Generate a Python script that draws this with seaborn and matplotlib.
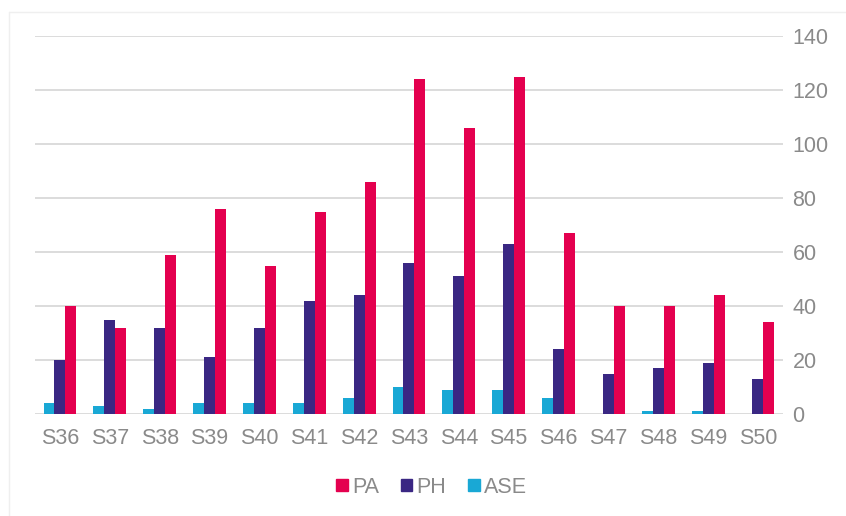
import matplotlib
matplotlib.use("Agg")
import matplotlib.pyplot as plt
import pandas as pd
import seaborn as sns
from matplotlib.lines import Line2D
from matplotlib.patches import Patch

# Data
weeks = ["S36", "S37", "S38", "S39", "S40", "S41", "S42", "S43",
         "S44", "S45", "S46", "S47", "S48", "S49", "S50"]
pa_values = [40, 32, 59, 76, 55, 75, 86, 124, 106, 125, 67, 40, 40, 44, 34]
ph_values = [20, 35, 32, 21, 32, 42, 44, 56, 51, 63, 24, 15, 17, 19, 13]
ase_values = [4, 3, 2, 4, 4, 4, 6, 10, 9, 9, 6, 0, 1, 1, 0]

colors = {"PA": "#E4004F", "PH": "#3A2783", "ASE": "#19A8D5"}

df = pd.DataFrame({"Semaine": weeks, "PA": pa_values, "PH": ph_values, "ASE": ase_values})
long_df = df.melt(id_vars="Semaine", var_name="Serie", value_name="Valeur")

sns.set_theme(style="white")
plt.rcParams["font.family"] = ["Liberation Sans", "DejaVu Sans"]

fig = plt.figure(figsize=(8.46, 5.16), dpi=100)
ax = fig.add_axes([0.0414, 0.1977, 0.884, 0.7323])

sns.barplot(data=long_df, x="Semaine", y="Valeur", hue="Serie",
            hue_order=["ASE", "PH", "PA"], palette=colors,
            width=0.66, gap=0, saturation=1, linewidth=0, ax=ax, legend=False)

ax.set_ylim(0, 140)
ax.set_xlim(-0.5, len(weeks) - 0.5)
ax.set_yticks(range(0, 141, 20))
ax.yaxis.tick_right()
ax.grid(axis="y", color="#D9D9D9", linewidth=1.3)
ax.set_axisbelow(True)
for s in ax.spines.values():
    s.set_visible(False)

ax.tick_params(axis="y", length=0, pad=7, labelsize=15.5, labelcolor="#8A8A8A")
ax.tick_params(axis="x", length=0, pad=10, labelsize=15.5, labelcolor="#8A8A8A")
ax.set_xlabel("")
ax.set_ylabel("")

handles = [Patch(color=colors[k], label=k) for k in ["PA", "PH", "ASE"]]
leg = fig.legend(handles=handles, loc="center", bbox_to_anchor=(0.51, 0.056),
                 ncol=3, frameon=False, fontsize=15.5, handlelength=0.55,
                 handleheight=0.55, handletextpad=0.2, columnspacing=1.0)
for t in leg.get_texts():
    t.set_color("#8A8A8A")

# faint chart-area border (only top and left edges visible in the reference)
fig.add_artist(Line2D([9 / 846, 1], [1 - 12 / 516, 1 - 12 / 516],
                      transform=fig.transFigure, color="#EFEFEF", linewidth=1))
fig.add_artist(Line2D([9 / 846, 9 / 846], [0, 1 - 12 / 516],
                      transform=fig.transFigure, color="#EFEFEF", linewidth=1))

fig.savefig("out.png", dpi=100)
